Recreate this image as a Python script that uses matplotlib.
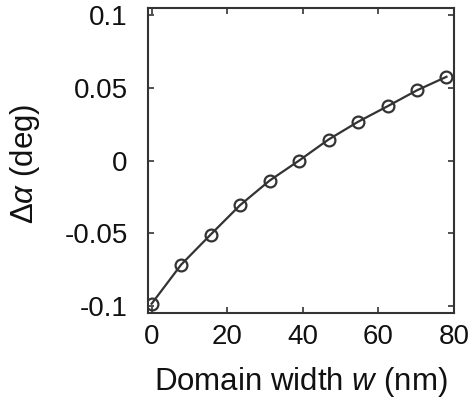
import matplotlib
matplotlib.use("Agg")
import matplotlib.pyplot as plt

# domain width (nm) and angle shift (deg)
width_nm = [0, 7.8, 15.6, 23.4, 31.2, 39.0, 46.8, 54.6, 62.4, 70.2, 78.0]
dalpha = [-0.0986, -0.0717, -0.0510, -0.0307, -0.0138, 0.0,
          0.0145, 0.0267, 0.0374, 0.0484, 0.0577]
xticks = [0, 20, 40, 60, 80]
yticks = [-0.1, -0.05, 0, 0.05, 0.1]
yticklabels = ['-0.1', '-0.05', '0', '0.05', '0.1']

plt.rcParams['font.family'] = ['Liberation Sans', 'DejaVu Sans']
plt.rcParams['mathtext.fontset'] = 'custom'
plt.rcParams['mathtext.it'] = 'Liberation Sans:italic'
plt.rcParams['mathtext.rm'] = 'Liberation Sans'

dark = '#333333'
fig = plt.figure(figsize=(4.71, 3.98), dpi=100)
ax = fig.add_axes([0.314, 0.2136, 0.650, 0.766])

ax.plot(width_nm, dalpha, '-o', color=dark, lw=1.6, ms=8.5,
        mfc='none', mec=dark, mew=1.6)

ax.set_xlim(-1, 80)
ax.set_ylim(-0.105, 0.105)
ax.set_xticks(xticks)
ax.set_yticks(yticks)
ax.set_yticklabels(yticklabels)
ax.tick_params(direction='in', top=True, right=True, length=4, width=1.2,
               color=dark, labelsize=20, labelcolor='#111111')
ax.tick_params(axis='y', pad=14.5)
ax.tick_params(axis='x', pad=8)
for s in ax.spines.values():
    s.set_color(dark)
    s.set_linewidth(1.5)

ax.set_xlabel('Domain width $w$ (nm)', fontsize=22.5, color='#111111')
ax.set_ylabel('Δ$\\alpha$ (deg)', fontsize=22.5, color='#111111')
ax.xaxis.set_label_coords(0.50, -0.172)
ax.yaxis.set_label_coords(-0.346, 0.49)

fig.savefig('out.png', dpi=100)
